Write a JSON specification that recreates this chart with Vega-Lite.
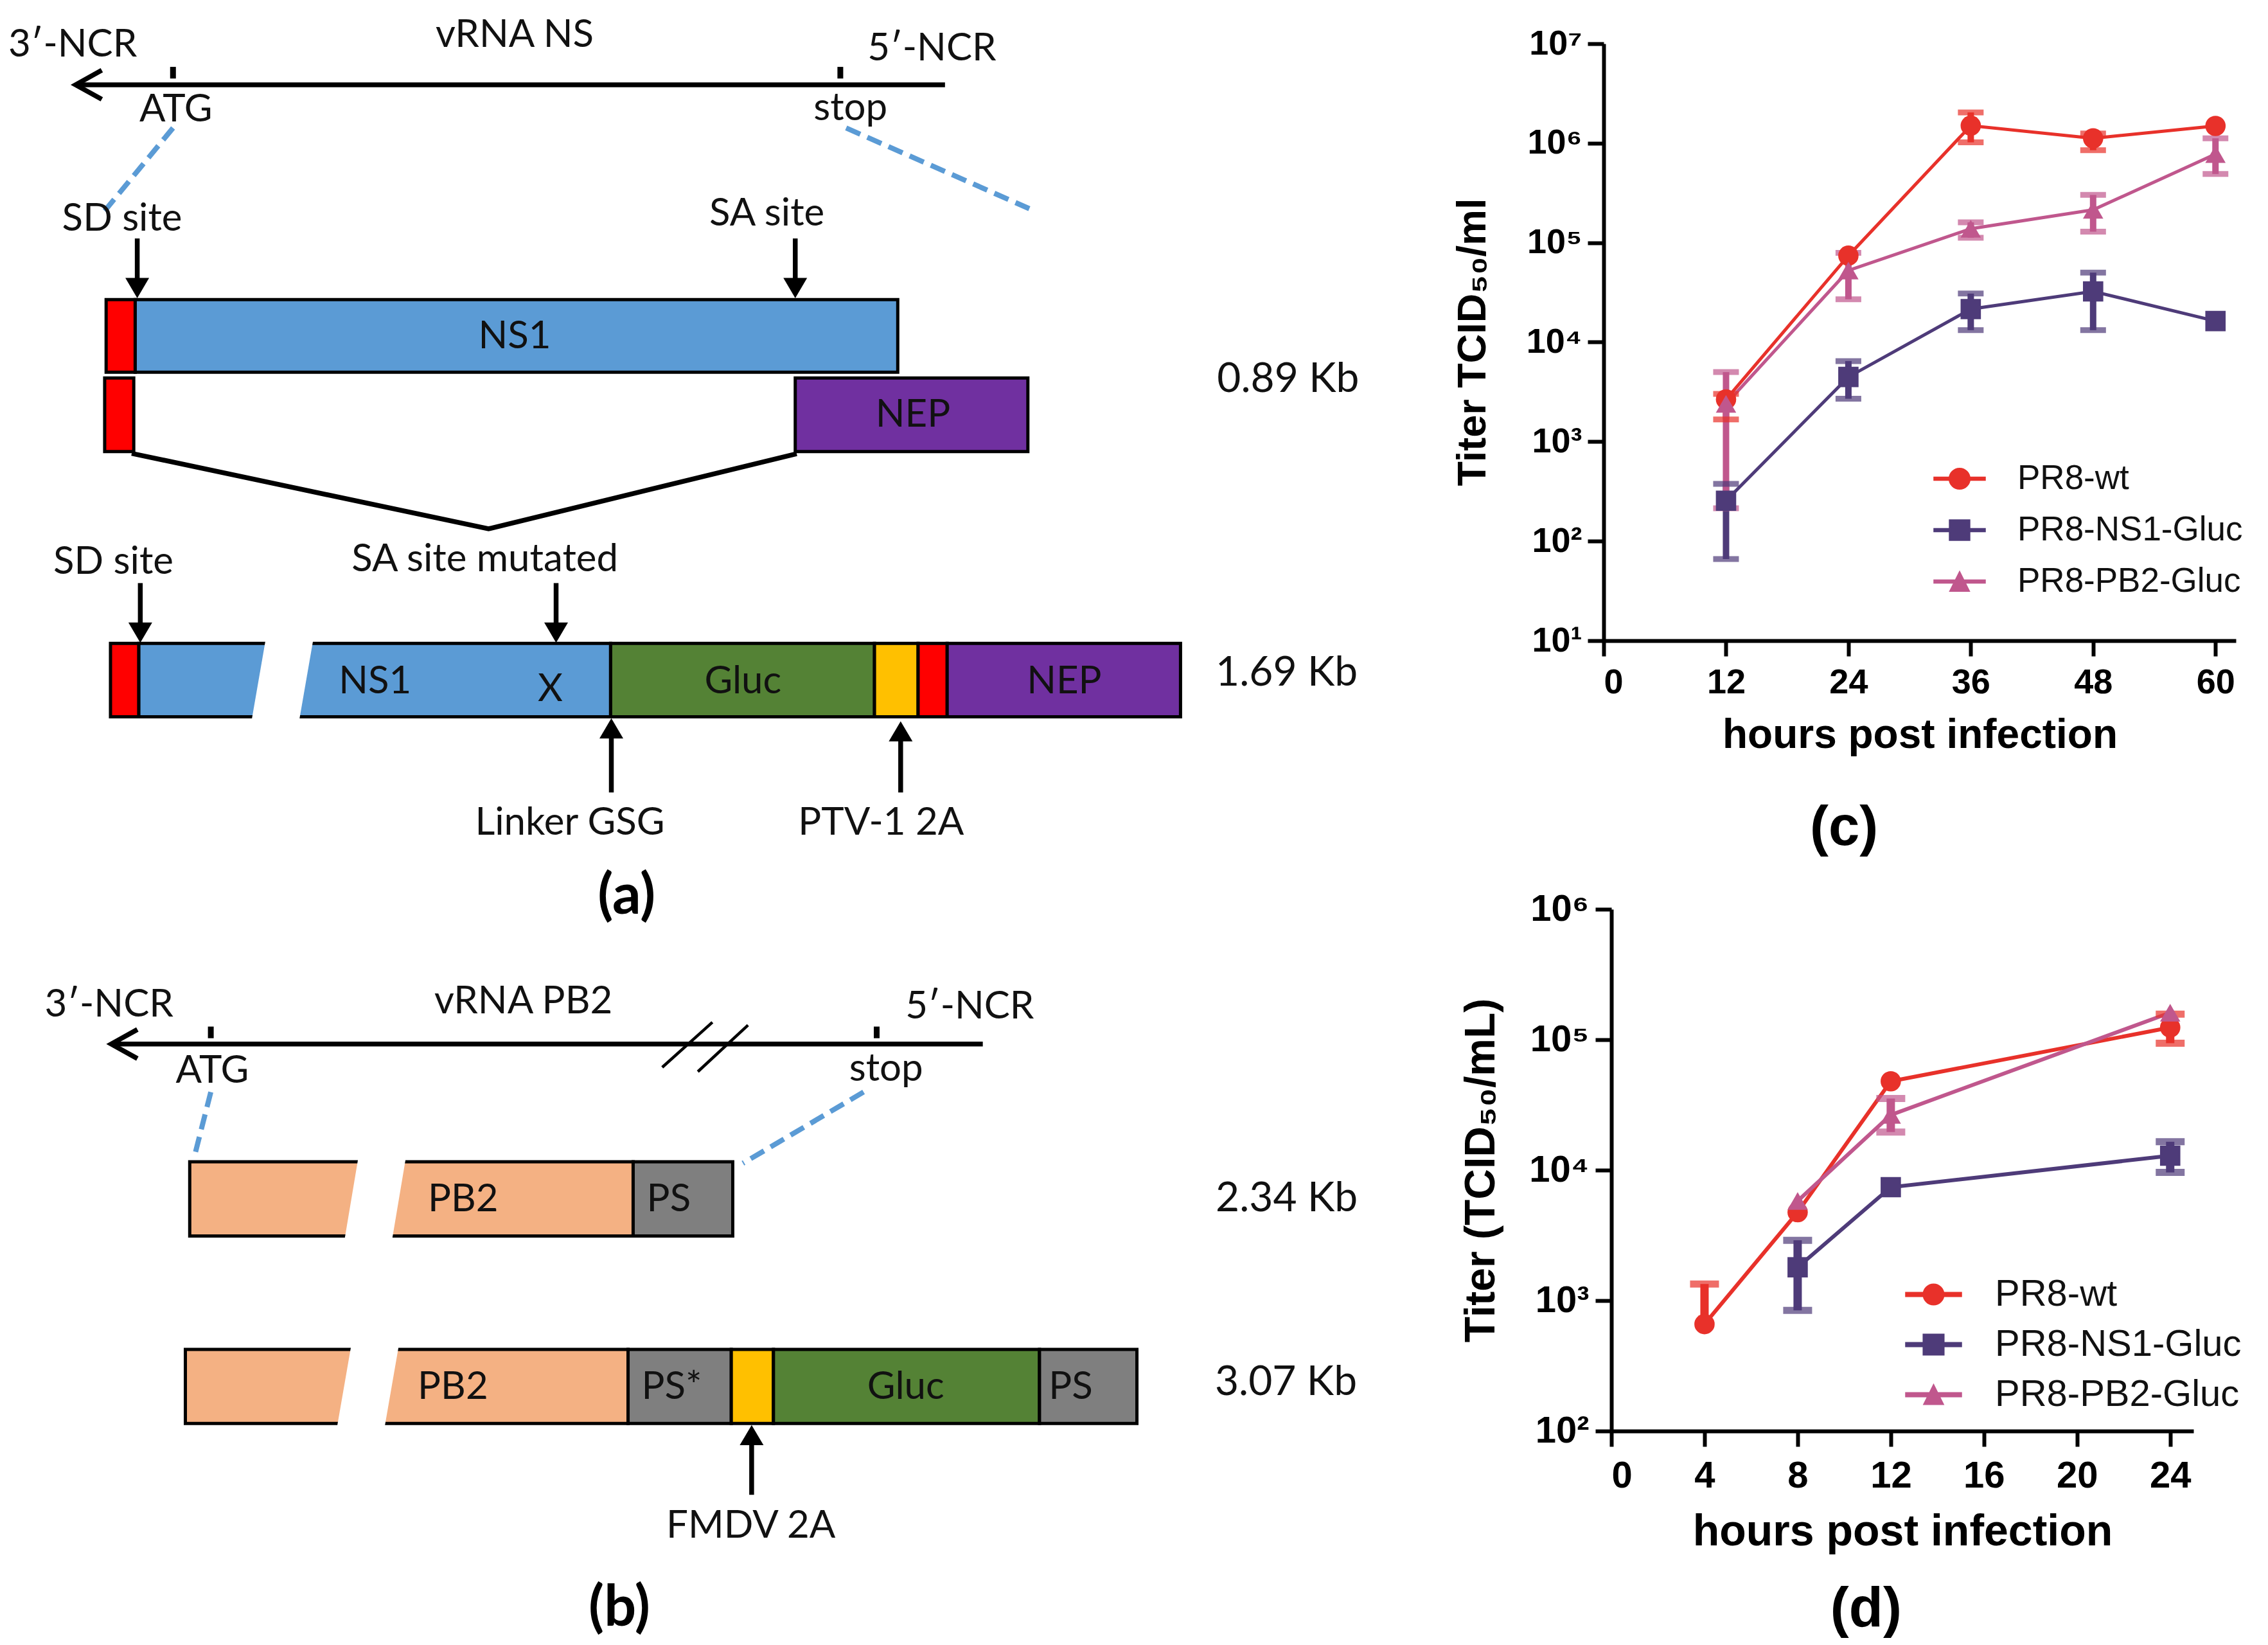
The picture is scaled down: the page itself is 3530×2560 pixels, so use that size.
{
  "$schema": "https://vega.github.io/schema/vega-lite/v6.json",
  "width": 3530,
  "height": 2560,
  "autosize": "none",
  "padding": 0,
  "background": "white",
  "config": {
    "view": {"stroke": null},
    "axis": {"grid": false, "domainColor": "black", "domainWidth": 6, "tickColor": "black", "tickWidth": 6,
      "labelFont": "Liberation Sans", "labelFontWeight": "bold", "labelColor": "black",
      "titleFont": "Liberation Sans", "titleFontWeight": "bold", "titleColor": "black"}
  },
  "datasets": {
    "rects": [
      {"x": 73, "x2": 93, "y": 206, "y2": 256, "p": "shared"},
      {"x": 93, "x2": 617.5, "y": 206, "y2": 256, "p": "ns1"},
      {"x": 72, "x2": 92, "y": 260, "y2": 310.5, "p": "shared"},
      {"x": 547, "x2": 707, "y": 260, "y2": 310.5, "p": "nep"},
      {"x": 76, "x2": 95.5, "y": 442.5, "y2": 493, "p": "shared"},
      {"x": 95.5, "x2": 420, "y": 442.5, "y2": 493, "p": "ns1"},
      {"x": 420, "x2": 601.5, "y": 442.5, "y2": 493, "p": "gluc"},
      {"x": 601.5, "x2": 631.5, "y": 442.5, "y2": 493, "p": "2a"},
      {"x": 631.5, "x2": 651.5, "y": 442.5, "y2": 493, "p": "shared"},
      {"x": 651.5, "x2": 812, "y": 442.5, "y2": 493, "p": "nep"},
      {"x": 130.5, "x2": 435.5, "y": 799, "y2": 850, "p": "pb2"},
      {"x": 435.5, "x2": 504, "y": 799, "y2": 850, "p": "ps"},
      {"x": 127.5, "x2": 432, "y": 928, "y2": 979, "p": "pb2"},
      {"x": 432, "x2": 503, "y": 928, "y2": 979, "p": "ps"},
      {"x": 503, "x2": 532, "y": 928, "y2": 979, "p": "2a"},
      {"x": 532, "x2": 715, "y": 928, "y2": 979, "p": "gluc"},
      {"x": 715, "x2": 782, "y": 928, "y2": 979, "p": "ps"}
    ],
    "gaps": [
      {"x": 199.85, "y": 435.5, "x2": 188.65, "y2": 500},
      {"x": 263.5, "y": 792, "x2": 252.6, "y2": 857},
      {"x": 258.7, "y": 921, "x2": 247.4, "y2": 986}
    ],
    "dashes": [
      {"x": 119, "y": 88, "x2": 72, "y2": 145},
      {"x": 582, "y": 88, "x2": 708, "y2": 143.5},
      {"x": 145, "y": 751, "x2": 134.3, "y2": 793},
      {"x": 594, "y": 751, "x2": 511, "y2": 800}
    ],
    "lines": [
      {"id": "L1", "k": 0, "x": 53, "y": 58.3}, {"id": "L1", "k": 1, "x": 650, "y": 58.3},
      {"id": "C1", "k": 0, "x": 70, "y": 48.3}, {"id": "C1", "k": 1, "x": 52, "y": 58.3}, {"id": "C1", "k": 2, "x": 70, "y": 68.3},
      {"id": "V", "k": 0, "x": 90.6, "y": 311.8}, {"id": "V", "k": 1, "x": 336, "y": 363.7}, {"id": "V", "k": 2, "x": 548, "y": 312},
      {"id": "L2", "k": 0, "x": 77.5, "y": 718}, {"id": "L2", "k": 1, "x": 676, "y": 718},
      {"id": "C2", "k": 0, "x": 94.5, "y": 708}, {"id": "C2", "k": 1, "x": 76.5, "y": 718}, {"id": "C2", "k": 2, "x": 94.5, "y": 728},
      {"id": "S1", "k": 0, "x": 94.4, "y": 164}, {"id": "S1", "k": 1, "x": 94.4, "y": 193},
      {"id": "S2", "k": 0, "x": 547, "y": 164}, {"id": "S2", "k": 1, "x": 547, "y": 193},
      {"id": "S3", "k": 0, "x": 96.5, "y": 401}, {"id": "S3", "k": 1, "x": 96.5, "y": 430},
      {"id": "S4", "k": 0, "x": 382.5, "y": 401}, {"id": "S4", "k": 1, "x": 382.5, "y": 430},
      {"id": "S5", "k": 0, "x": 420.5, "y": 545}, {"id": "S5", "k": 1, "x": 420.5, "y": 506},
      {"id": "S6", "k": 0, "x": 619.5, "y": 545}, {"id": "S6", "k": 1, "x": 619.5, "y": 509},
      {"id": "S7", "k": 0, "x": 517, "y": 1028}, {"id": "S7", "k": 1, "x": 517, "y": 992}
    ],
    "vticks": [
      {"x": 119, "y": 46, "x2": 119, "y2": 54},
      {"x": 578, "y": 46, "x2": 578, "y2": 54},
      {"x": 145, "y": 706, "x2": 145, "y2": 714},
      {"x": 603, "y": 706, "x2": 603, "y2": 714}
    ],
    "slashes": [
      {"x": 455.5, "y": 734, "x2": 490, "y2": 703},
      {"x": 480, "y": 737, "x2": 514.5, "y2": 705}
    ],
    "down": [
      {"x": 94.4, "y": 205}, {"x": 547, "y": 205}, {"x": 96.5, "y": 442}, {"x": 382.5, "y": 442}
    ],
    "up": [
      {"x": 420.5, "y": 494}, {"x": 619.5, "y": 496}, {"x": 517, "y": 980}
    ],
    "texts": [
      {"t": "3′-NCR", "x": 50, "y": 31},
      {"t": "vRNA NS", "x": 354, "y": 24.5},
      {"t": "5′-NCR", "x": 641, "y": 33.5},
      {"t": "ATG", "x": 121, "y": 75.5},
      {"t": "stop", "x": 585, "y": 74.5},
      {"t": "SD site", "x": 84, "y": 150.5},
      {"t": "SA site", "x": 527.5, "y": 147},
      {"t": "NS1", "x": 354, "y": 231.5},
      {"t": "NEP", "x": 628, "y": 285.5},
      {"t": "SD site", "x": 78, "y": 386.5},
      {"t": "SA site mutated", "x": 333.5, "y": 385},
      {"t": "NS1", "x": 258, "y": 469},
      {"t": "X", "x": 378.5, "y": 474},
      {"t": "Gluc", "x": 511, "y": 469},
      {"t": "NEP", "x": 732, "y": 469},
      {"t": "Linker GSG", "x": 392, "y": 566},
      {"t": "PTV-1 2A", "x": 606, "y": 566},
      {"t": "3′-NCR", "x": 75, "y": 691},
      {"t": "vRNA PB2", "x": 360, "y": 689},
      {"t": "5′-NCR", "x": 667, "y": 692.5},
      {"t": "ATG", "x": 146, "y": 736.5},
      {"t": "stop", "x": 609.5, "y": 735.5},
      {"t": "PB2", "x": 318.5, "y": 825},
      {"t": "PS", "x": 460, "y": 825},
      {"t": "PB2", "x": 311.5, "y": 954},
      {"t": "PS*", "x": 462, "y": 954},
      {"t": "Gluc", "x": 623, "y": 954},
      {"t": "PS", "x": 736.5, "y": 954},
      {"t": "FMDV 2A", "x": 516.5, "y": 1049.5}
    ],
    "kb": [
      {"t": "0.89 Kb", "x": 886, "y": 261},
      {"t": "1.69 Kb", "x": 885, "y": 463},
      {"t": "2.34 Kb", "x": 885, "y": 824.5},
      {"t": "3.07 Kb", "x": 884.5, "y": 951}
    ],
    "panAB": [
      {"t": "(a)", "x": 431, "y": 617},
      {"t": "(b)", "x": 426, "y": 1106.5}
    ],
    "panCD": [
      {"t": "(c)", "x": 1268.4, "y": 569.5},
      {"t": "(d)", "x": 1283.5, "y": 1107}
    ],
    "tc": [
      {"h": 12, "s": "PR8-wt", "m": 2660, "lo": 1670, "hi": 3020},
      {"h": 24, "s": "PR8-wt", "m": 74000},
      {"h": 36, "s": "PR8-wt", "m": 1500000, "lo": 1020000, "hi": 2040000},
      {"h": 48, "s": "PR8-wt", "m": 1120000, "lo": 850000, "hi": 1250000},
      {"h": 60, "s": "PR8-wt", "m": 1490000},
      {"h": 12, "s": "PR8-NS1-Gluc", "m": 255, "lo": 66, "hi": 376},
      {"h": 24, "s": "PR8-NS1-Gluc", "m": 4470, "lo": 2700, "hi": 6460},
      {"h": 36, "s": "PR8-NS1-Gluc", "m": 21500, "lo": 13200, "hi": 30800},
      {"h": 48, "s": "PR8-NS1-Gluc", "m": 32400, "lo": 13200, "hi": 50000},
      {"h": 60, "s": "PR8-NS1-Gluc", "m": 16300},
      {"h": 12, "s": "PR8-PB2-Gluc", "m": 2400, "lo": 214, "hi": 5000},
      {"h": 24, "s": "PR8-PB2-Gluc", "m": 52500, "lo": 27000, "hi": 79000},
      {"h": 36, "s": "PR8-PB2-Gluc", "m": 138000, "lo": 112000, "hi": 160000},
      {"h": 48, "s": "PR8-PB2-Gluc", "m": 214000, "lo": 129000, "hi": 302000},
      {"h": 60, "s": "PR8-PB2-Gluc", "m": 776000, "lo": 490000, "hi": 1120000}
    ],
    "td": [
      {"h": 4, "s": "PR8-wt", "m": 660, "hi": 1340},
      {"h": 8, "s": "PR8-wt", "m": 4760},
      {"h": 12, "s": "PR8-wt", "m": 48000},
      {"h": 24, "s": "PR8-wt", "m": 124000, "lo": 94000, "hi": 157000},
      {"h": 8, "s": "PR8-NS1-Gluc", "m": 1800, "lo": 840, "hi": 2900},
      {"h": 12, "s": "PR8-NS1-Gluc", "m": 7400},
      {"h": 24, "s": "PR8-NS1-Gluc", "m": 12900, "lo": 9600, "hi": 16500},
      {"h": 8, "s": "PR8-PB2-Gluc", "m": 5800},
      {"h": 12, "s": "PR8-PB2-Gluc", "m": 26500, "lo": 19600, "hi": 35400},
      {"h": 24, "s": "PR8-PB2-Gluc", "m": 161000}
    ]
  },
  "layer": [
    {
      "encoding": {
        "x": {"field": "x", "type": "quantitative", "scale": {"domain": [0, 1560], "nice": false, "zero": false}, "axis": null},
        "y": {"field": "y", "type": "quantitative", "scale": {"domain": [0, 1131.3], "nice": false, "zero": false, "reverse": true}, "axis": null}
      },
      "layer": [
        {
          "data": {"name": "rects"},
          "mark": {"type": "rect", "stroke": "black", "strokeWidth": 5},
          "encoding": {
            "x2": {"field": "x2"},
            "y2": {"field": "y2"},
            "fill": {"field": "p", "type": "nominal", "legend": null,
              "scale": {"domain": ["shared", "ns1", "nep", "gluc", "2a", "pb2", "ps"],
                        "range": ["#FF0000", "#5B9BD5", "#7030A0", "#548235", "#FFC000", "#F4B183", "#7F7F7F"]}}
          }
        },
        {
          "data": {"name": "gaps"},
          "mark": {"type": "rule", "stroke": "white", "strokeWidth": 73, "strokeCap": "butt"},
          "encoding": {"x2": {"field": "x2"}, "y2": {"field": "y2"}}
        },
        {
          "data": {"name": "dashes"},
          "mark": {"type": "rule", "stroke": "#5B9BD5", "strokeWidth": 8, "strokeDash": [24, 12]},
          "encoding": {"x2": {"field": "x2"}, "y2": {"field": "y2"}}
        },
        {
          "data": {"name": "lines"},
          "mark": {"type": "line", "stroke": "black", "strokeWidth": 7.5, "strokeJoin": "miter", "strokeCap": "butt"},
          "encoding": {"detail": {"field": "id", "type": "nominal"}, "order": {"field": "k", "type": "quantitative"}}
        },
        {
          "data": {"name": "vticks"},
          "mark": {"type": "rule", "stroke": "black", "strokeWidth": 9},
          "encoding": {"x2": {"field": "x2"}, "y2": {"field": "y2"}}
        },
        {
          "data": {"name": "slashes"},
          "mark": {"type": "rule", "stroke": "black", "strokeWidth": 4.5},
          "encoding": {"x2": {"field": "x2"}, "y2": {"field": "y2"}}
        },
        {
          "data": {"name": "down"},
          "mark": {"type": "point", "shape": "M0,0L-1,-1.7L1,-1.7Z", "size": 1369, "filled": true, "fill": "black", "opacity": 1, "strokeWidth": 0},
          "encoding": {}
        },
        {
          "data": {"name": "up"},
          "mark": {"type": "point", "shape": "M0,0L-1,1.7L1,1.7Z", "size": 1369, "filled": true, "fill": "black", "opacity": 1, "strokeWidth": 0},
          "encoding": {}
        },
        {
          "data": {"name": "texts"},
          "mark": {"type": "text", "font": "Lato", "fontSize": 60, "fill": "#111111"},
          "encoding": {"text": {"field": "t", "type": "nominal"}}
        },
        {
          "data": {"name": "kb"},
          "mark": {"type": "text", "font": "Lato", "fontSize": 64, "fill": "#111111"},
          "encoding": {"text": {"field": "t", "type": "nominal"}}
        },
        {
          "data": {"name": "panAB"},
          "mark": {"type": "text", "font": "Lato", "fontWeight": "bold", "fontSize": 88, "fill": "black"},
          "encoding": {"text": {"field": "t", "type": "nominal"}}
        },
        {
          "data": {"name": "panCD"},
          "mark": {"type": "text", "font": "Liberation Sans", "fontWeight": "bold", "fontSize": 87, "fill": "black"},
          "encoding": {"text": {"field": "t", "type": "nominal"}}
        }
      ]
    },
    {
      "data": {"name": "tc"},
      "encoding": {
        "x": {"field": "h", "type": "quantitative",
          "scale": {"domain": [0, 62], "range": [2496, 3480], "nice": false, "zero": false},
          "axis": {"orient": "bottom", "offset": -1563, "values": [0, 12, 24, 36, 48, 60], "tickSize": 24,
            "labelFontSize": 54, "labelPadding": 14,
            "title": "hours post infection", "titleFontSize": 64, "titleY": 166, "titleBaseline": "alphabetic"}},
        "y": {"field": "m", "type": "quantitative",
          "scale": {"type": "log", "domain": [10, 10000000], "range": [997, 68], "nice": false},
          "axis": {"orient": "left", "offset": -2496, "values": [10, 100, 1000, 10000, 100000, 1000000, 10000000],
            "labelExpr": "'10' + ['⁰','¹','²','³','⁴','⁵','⁶','⁷'][round(log(datum.value)/LN10)]",
            "tickSize": 25, "labelFontSize": 54, "labelPadding": 9,
            "title": "Titer TCID₅₀/ml", "titleFontSize": 63,
            "titleX": -204, "titleY": 532, "titleAngle": 270, "titleAlign": "center", "titleBaseline": "middle"}}
      },
      "layer": [
        {
          "mark": {"type": "line", "strokeWidth": 5},
          "encoding": {
            "stroke": {"field": "s", "type": "nominal", "legend": null,
              "scale": {"domain": ["PR8-wt", "PR8-NS1-Gluc", "PR8-PB2-Gluc"], "range": ["#E8312A", "#4E3B79", "#C0578D"]}}
          }
        },
        {
          "transform": [{"fold": ["lo", "hi"], "as": ["k", "v"]}, {"filter": "isValid(datum.v)"}],
          "mark": {"type": "rule", "strokeWidth": 10},
          "encoding": {
            "y2": {"field": "v"},
            "stroke": {"field": "s", "type": "nominal", "legend": null}
          }
        },
        {
          "transform": [{"fold": ["lo", "hi"], "as": ["k", "v"]}, {"filter": "isValid(datum.v)"}],
          "mark": {"type": "tick", "orient": "horizontal", "size": 40, "thickness": 9},
          "encoding": {
            "y": {"field": "v", "type": "quantitative",
              "scale": {"type": "log", "domain": [10, 10000000], "range": [997, 68], "nice": false},
              "axis": {"orient": "left", "offset": -2496, "values": [10, 100, 1000, 10000, 100000, 1000000, 10000000],
                "labelExpr": "'10' + ['⁰','¹','²','³','⁴','⁵','⁶','⁷'][round(log(datum.value)/LN10)]",
                "tickSize": 25, "labelFontSize": 54, "labelPadding": 9,
                "title": "Titer TCID₅₀/ml", "titleFontSize": 63,
                "titleX": -204, "titleY": 532, "titleAngle": 270, "titleAlign": "center", "titleBaseline": "middle"}},
            "color": {"field": "s", "type": "nominal", "legend": null,
              "scale": {"domain": ["PR8-wt", "PR8-NS1-Gluc", "PR8-PB2-Gluc"], "range": ["#E8312A", "#4E3B79", "#C0578D"]}}
          }
        },
        {
          "mark": {"type": "point", "filled": true, "size": 1000, "opacity": 1},
          "encoding": {
            "color": {"field": "s", "type": "nominal", "legend": null,
              "scale": {"domain": ["PR8-wt", "PR8-NS1-Gluc", "PR8-PB2-Gluc"], "range": ["#E8312A", "#4E3B79", "#C0578D"]}},
            "shape": {"field": "s", "type": "nominal", "legend": null,
              "scale": {"domain": ["PR8-wt", "PR8-NS1-Gluc", "PR8-PB2-Gluc"], "range": ["circle", "square", "triangle-up"]}}
          }
        }
      ]
    },
    {
      "data": {"name": "td"},
      "encoding": {
        "x": {"field": "h", "type": "quantitative",
          "scale": {"domain": [0, 25], "range": [2508, 3414], "nice": false, "zero": false},
          "axis": {"orient": "bottom", "offset": -333, "values": [0, 4, 8, 12, 16, 20, 24], "tickSize": 24,
            "labelFontSize": 58, "labelPadding": 17,
            "title": "hours post infection", "titleFontSize": 68, "titleY": 177, "titleBaseline": "alphabetic"}},
        "y": {"field": "m", "type": "quantitative",
          "scale": {"type": "log", "domain": [100, 1000000], "range": [2227, 1415], "nice": false},
          "axis": {"orient": "left", "offset": -2508, "values": [100, 1000, 10000, 100000, 1000000],
            "labelExpr": "'10' + ['⁰','¹','²','³','⁴','⁵','⁶','⁷'][round(log(datum.value)/LN10)]",
            "tickSize": 25, "labelFontSize": 58, "labelPadding": 10,
            "title": "Titer (TCID₅₀/mL)", "titleFontSize": 66,
            "titleX": -203, "titleY": 1821, "titleAngle": 270, "titleAlign": "center", "titleBaseline": "middle"}}
      },
      "layer": [
        {
          "mark": {"type": "line", "strokeWidth": 6},
          "encoding": {
            "stroke": {"field": "s", "type": "nominal", "legend": null,
              "scale": {"domain": ["PR8-wt", "PR8-NS1-Gluc", "PR8-PB2-Gluc"], "range": ["#E8312A", "#4E3B79", "#C0578D"]}}
          }
        },
        {
          "transform": [{"fold": ["lo", "hi"], "as": ["k", "v"]}, {"filter": "isValid(datum.v)"}],
          "mark": {"type": "rule", "strokeWidth": 13},
          "encoding": {
            "y2": {"field": "v"},
            "stroke": {"field": "s", "type": "nominal", "legend": null}
          }
        },
        {
          "transform": [{"fold": ["lo", "hi"], "as": ["k", "v"]}, {"filter": "isValid(datum.v)"}],
          "mark": {"type": "tick", "orient": "horizontal", "size": 45, "thickness": 11},
          "encoding": {
            "y": {"field": "v", "type": "quantitative",
              "scale": {"type": "log", "domain": [100, 1000000], "range": [2227, 1415], "nice": false},
              "axis": {"orient": "left", "offset": -2508, "values": [100, 1000, 10000, 100000, 1000000],
                "labelExpr": "'10' + ['⁰','¹','²','³','⁴','⁵','⁶','⁷'][round(log(datum.value)/LN10)]",
                "tickSize": 25, "labelFontSize": 58, "labelPadding": 10,
                "title": "Titer (TCID₅₀/mL)", "titleFontSize": 66,
                "titleX": -203, "titleY": 1821, "titleAngle": 270, "titleAlign": "center", "titleBaseline": "middle"}},
            "color": {"field": "s", "type": "nominal", "legend": null,
              "scale": {"domain": ["PR8-wt", "PR8-NS1-Gluc", "PR8-PB2-Gluc"], "range": ["#E8312A", "#4E3B79", "#C0578D"]}}
          }
        },
        {
          "mark": {"type": "point", "filled": true, "size": 1000, "opacity": 1},
          "encoding": {
            "color": {"field": "s", "type": "nominal", "legend": null,
              "scale": {"domain": ["PR8-wt", "PR8-NS1-Gluc", "PR8-PB2-Gluc"], "range": ["#E8312A", "#4E3B79", "#C0578D"]}},
            "shape": {"field": "s", "type": "nominal", "legend": null,
              "scale": {"domain": ["PR8-wt", "PR8-NS1-Gluc", "PR8-PB2-Gluc"], "range": ["circle", "square", "triangle-up"]}}
          }
        }
      ]
    },
    {
      "data": {"name": "tc"},
      "mark": {"type": "point", "filled": true, "opacity": 0},
      "encoding": {
        "color": {"field": "s", "type": "nominal",
          "scale": {"domain": ["PR8-wt", "PR8-NS1-Gluc", "PR8-PB2-Gluc"], "range": ["#E8312A", "#4E3B79", "#C0578D"]},
          "legend": {"orient": "none", "legendX": 3009, "legendY": 704, "title": null, "symbolSize": 6642, "symbolStrokeWidth": 0, "symbolOpacity": 1,
            "labelFont": "Liberation Sans", "labelFontSize": 53, "labelColor": "#111111", "labelOffset": 49, "labelLimit": 0, "rowPadding": 12, "padding": 0}},
        "shape": {"field": "s", "type": "nominal",
          "scale": {"domain": ["PR8-wt", "PR8-NS1-Gluc", "PR8-PB2-Gluc"],
            "range": ["M-1,-0.08L1,-0.08L1,0.08L-1,0.08ZM-0.42,0A0.42,0.42,0,1,1,0.42,0A0.42,0.42,0,1,1,-0.42,0Z",
                      "M-1,-0.08L1,-0.08L1,0.08L-1,0.08ZM-0.41,-0.41L0.41,-0.41L0.41,0.41L-0.41,0.41Z",
                      "M-1,-0.08L1,-0.08L1,0.08L-1,0.08ZM0,-0.43L0.41,0.39L-0.41,0.39Z"]},
          "legend": {"orient": "none", "legendX": 3009, "legendY": 704, "title": null, "symbolSize": 6642, "symbolStrokeWidth": 0, "symbolOpacity": 1,
            "labelFont": "Liberation Sans", "labelFontSize": 53, "labelColor": "#111111", "labelOffset": 49, "labelLimit": 0, "rowPadding": 12, "padding": 0}}
      }
    },
    {
      "data": {"name": "td"},
      "mark": {"type": "point", "filled": true, "opacity": 0},
      "encoding": {
        "color": {"field": "s", "type": "nominal",
          "scale": {"domain": ["PR8-wt", "PR8-NS1-Gluc", "PR8-PB2-Gluc"], "range": ["#E8312A", "#4E3B79", "#C0578D"]},
          "legend": {"orient": "none", "legendX": 2965, "legendY": 1970, "title": null, "symbolSize": 7832, "symbolStrokeWidth": 0, "symbolOpacity": 1,
            "labelFont": "Liberation Sans", "labelFontSize": 58, "labelColor": "#111111", "labelOffset": 51, "labelLimit": 0, "rowPadding": 4, "padding": 0}},
        "shape": {"field": "s", "type": "nominal",
          "scale": {"domain": ["PR8-wt", "PR8-NS1-Gluc", "PR8-PB2-Gluc"],
            "range": ["M-1,-0.09L1,-0.09L1,0.09L-1,0.09ZM-0.385,0A0.385,0.385,0,1,1,0.385,0A0.385,0.385,0,1,1,-0.385,0Z",
                      "M-1,-0.09L1,-0.09L1,0.09L-1,0.09ZM-0.385,-0.385L0.385,-0.385L0.385,0.385L-0.385,0.385Z",
                      "M-1,-0.09L1,-0.09L1,0.09L-1,0.09ZM0,-0.4L0.38,0.36L-0.38,0.36Z"]},
          "legend": {"orient": "none", "legendX": 2965, "legendY": 1970, "title": null, "symbolSize": 7832, "symbolStrokeWidth": 0, "symbolOpacity": 1,
            "labelFont": "Liberation Sans", "labelFontSize": 58, "labelColor": "#111111", "labelOffset": 51, "labelLimit": 0, "rowPadding": 4, "padding": 0}}
      }
    }
  ],
  "resolve": {
    "scale": {"x": "independent", "y": "independent", "color": "independent", "stroke": "independent", "shape": "independent", "fill": "independent"},
    "axis": {"x": "independent", "y": "independent"},
    "legend": {"color": "independent", "stroke": "independent", "shape": "independent", "fill": "independent"}
  }
}
